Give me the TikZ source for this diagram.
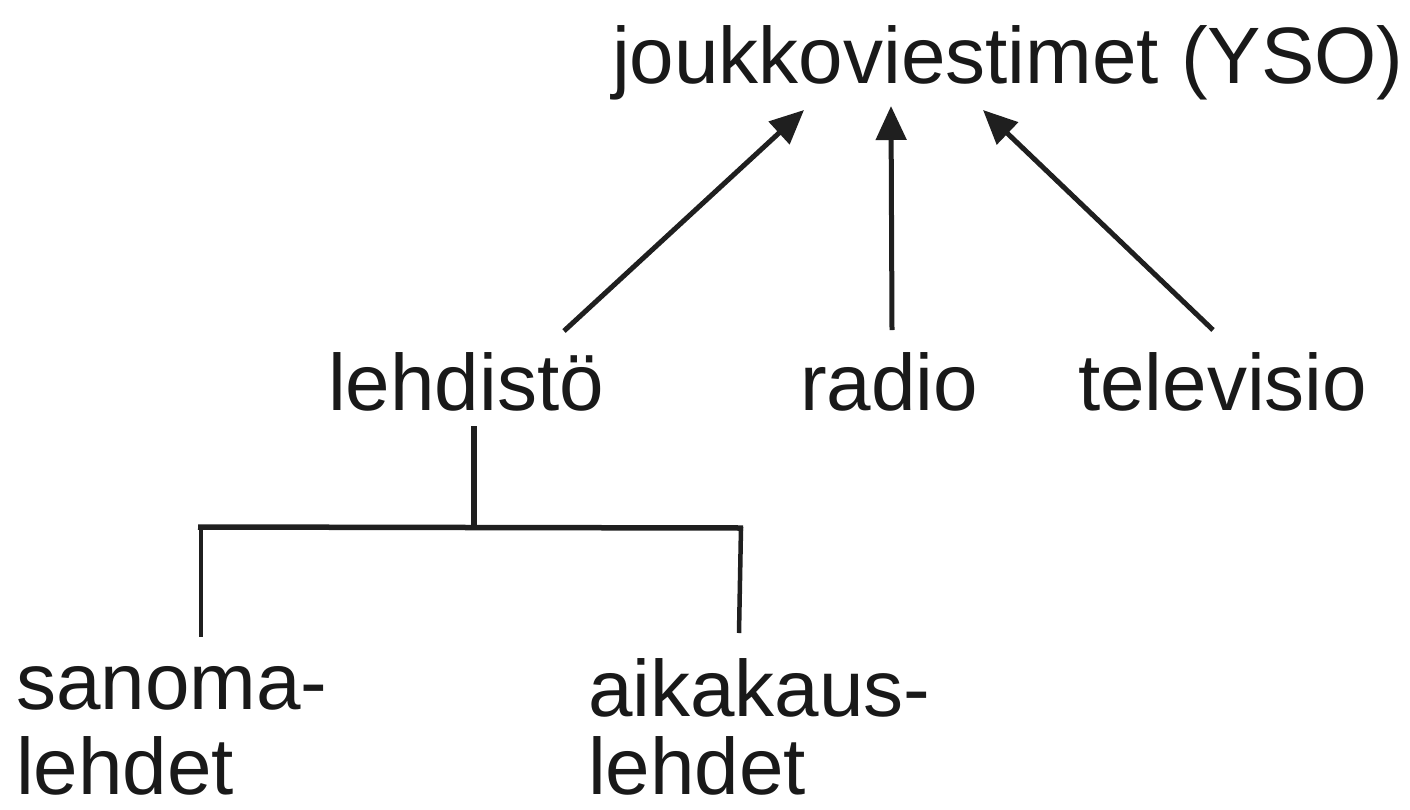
\documentclass[tikz,border=0pt]{standalone}
\usepackage{fontspec}
\setmainfont{Liberation Sans}
\usetikzlibrary{arrows.meta}
\begin{document}
\begin{tikzpicture}[x=1pt,y=-1pt,
  lbl/.style={anchor=base west,inner sep=0pt,font=\fontsize{80}{92}\selectfont,text=black!90},
  arr/.style={line width=5pt,draw=black!88,-{Triangle[length=34pt,width=30pt]}},
  tree/.style={line width=5.5pt,draw=black!88}]
\useasboundingbox (0,0) rectangle (1410,809);
\node[lbl] (top) at (612,83) {joukkoviestimet (YSO)};
\node[lbl] (leh) at (328,410) {lehdistö};
\node[lbl] (rad) at (800,410) {radio};
\node[lbl] (tv) at (1078,410) {televisio};
\node[lbl] (san) at (16,709) {sanoma-};
\node[lbl,text depth=0pt] (san2) at (16,794) {lehdet};
\node[lbl] (aik) at (588,716) {aikakaus-};
\node[lbl,text depth=0pt] (aik2) at (588,794) {lehdet};
% arrow ends
\coordinate (a1s) at (564,331); \coordinate (a1e) at (804,110);
\coordinate (a2s) at (892,330); \coordinate (a2e) at (891,106);
\coordinate (a3s) at (1213,330); \coordinate (a3e) at (983,110);
\draw[arr] (a1s) -- (a1e);
\draw[arr] (a2s) -- (a2e);
\draw[arr] (a3s) -- (a3e);
% tree
\coordinate (t0) at (474,426);
\coordinate (tj) at (474,528);
\coordinate (tl) at (198,527);
\coordinate (tr) at (743,528);
\coordinate (bl) at (201,637);
\coordinate (br) at (739,633);
\draw[tree,line width=6pt] (t0) -- (tj);
\draw[tree] (tl) -- (tr);
\draw[tree,line width=4.5pt] (201,527) -- (bl);
\draw[tree,line width=4.5pt] (741,527) -- (br);
\end{tikzpicture}
\end{document}
